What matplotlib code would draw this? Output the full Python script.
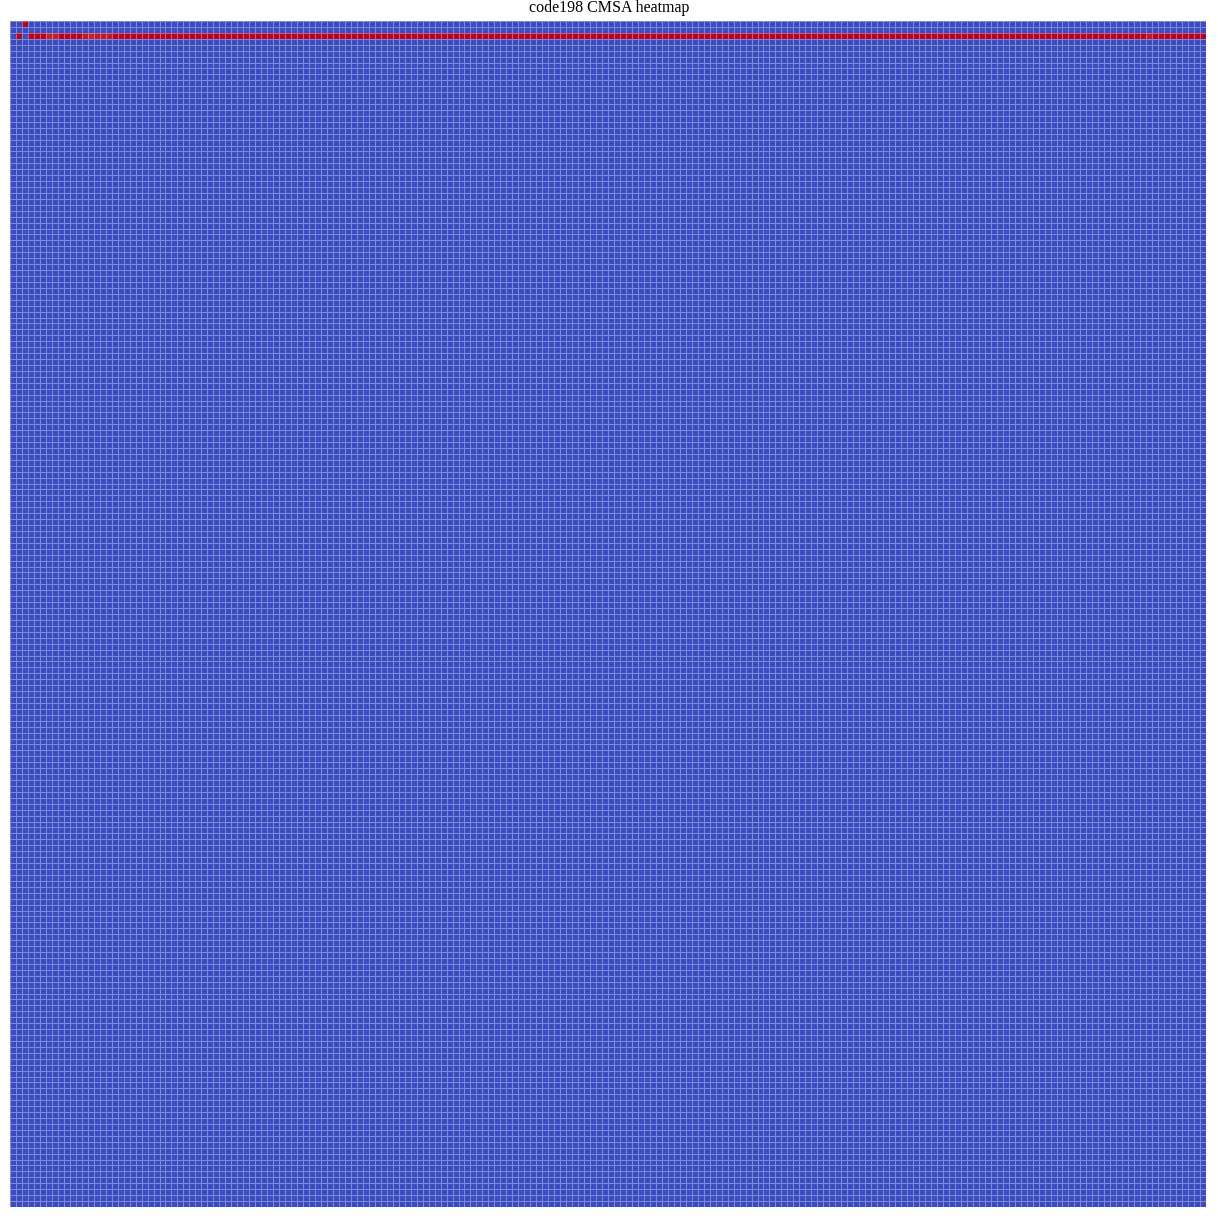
import matplotlib
matplotlib.use("Agg")
import matplotlib.pyplot as plt
import numpy as np

# CMSA heatmap, 200 x 200 cells, almost everything at the low end
n_rows = 200
n_cols = 200
background_value = 0.0

# single hot cell in the first row
hot_cell_row = 0
hot_cell_col = 2
hot_cell_value = 1.0

# the third row is hot almost everywhere
hot_row_index = 2
hot_row_values = [0.0, 1.0, 0.0] + [1.0] * 197
# a few slightly lighter cells in the hot row
lighter_cols = [6, 7, 12, 13, 14, 15, 16, 190]
lighter_vals = [0.97, 0.97, 0.98, 0.97, 0.98, 0.98, 0.98, 0.98]

data = np.full((n_rows, n_cols), background_value)
data[hot_cell_row, hot_cell_col] = hot_cell_value
data[hot_row_index, :] = hot_row_values
for c, v in zip(lighter_cols, lighter_vals):
    data[hot_row_index, c] = v

fig = plt.figure(figsize=(12.18, 12.18), dpi=100)
W = 1218.0
ax = fig.add_axes([10 / W, 1 - 1207 / W, 1196 / W, 1186 / W])
ax.pcolormesh(data, cmap="coolwarm", vmin=0, vmax=1,
              edgecolors=(1, 1, 1, 0.35), linewidth=0.5)
ax.set_xlim(0, n_cols)
ax.set_ylim(n_rows, 0)
ax.set_xticks([])
ax.set_yticks([])
for s in ax.spines.values():
    s.set_visible(False)

fig.text(0.5, 1 - 8 / W, "code198 CMSA heatmap", ha="center", va="center",
         fontsize=11.5, family="Liberation Serif")

fig.savefig("out.png", dpi=100)
